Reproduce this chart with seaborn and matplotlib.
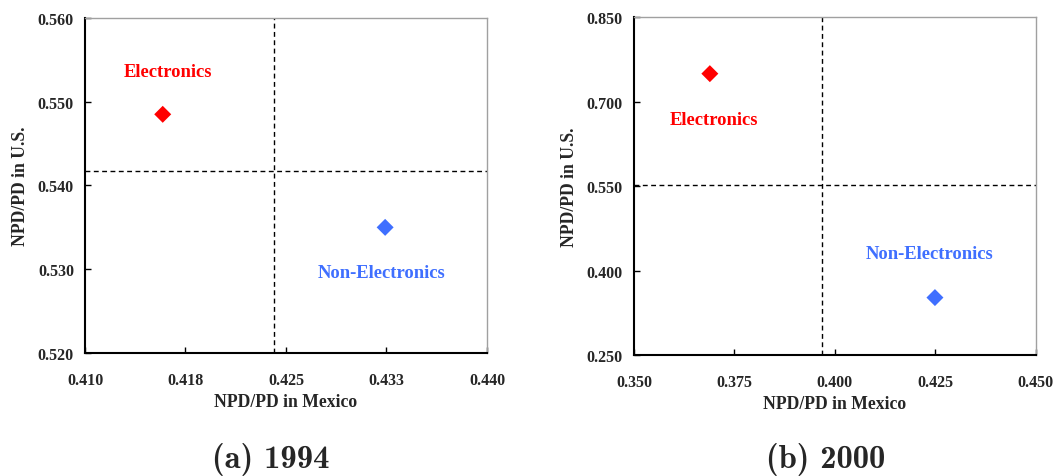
import os
import matplotlib
matplotlib.use("Agg")
import matplotlib.pyplot as plt
from matplotlib.font_manager import FontProperties
import seaborn as sns
import pandas as pd

sns.set_theme(style="white")
plt.rcParams['font.family'] = ['Liberation Serif', 'DejaVu Serif']

categories = ["Electronics", "Non-Electronics"]
colors = ["#ff0000", "#3f6fff"]

# 1994
x94 = [0.4158, 0.4324]
y94 = [0.5485, 0.5350]
vline94 = 0.4241
hline94 = 0.5417
lab_x94 = [0.4162, 0.4321]
lab_y94 = [0.5536, 0.5296]
xticks94 = [0.410, 0.4175, 0.425, 0.4325, 0.440]
xticklabels94 = ["0.410", "0.418", "0.425", "0.433", "0.440"]
yticks94 = [0.520, 0.530, 0.540, 0.550, 0.560]
yticklabels94 = ["0.520", "0.530", "0.540", "0.550", "0.560"]

# 2000
x00 = [0.3689, 0.4249]
y00 = [0.7498, 0.352]
vline00 = 0.3969
hline00 = 0.5526
lab_x00 = [0.370, 0.4236]
lab_y00 = [0.668, 0.431]
xticks00 = [0.350, 0.375, 0.400, 0.425, 0.450]
xticklabels00 = ["0.350", "0.375", "0.400", "0.425", "0.450"]
yticks00 = [0.250, 0.400, 0.550, 0.700, 0.850]
yticklabels00 = ["0.250", "0.400", "0.550", "0.700", "0.850"]

captions = ["(a) 1994", "(b) 2000"]

fig = plt.figure(figsize=(10.6, 4.77), dpi=100)
ax1 = fig.add_axes([0.0802, 0.2579, 0.3792, 0.7023])
ax2 = fig.add_axes([0.598, 0.2537, 0.3792, 0.708])

panels = [
    (ax1, x94, y94, vline94, hline94, lab_x94, lab_y94, xticks94, xticklabels94, yticks94, yticklabels94),
    (ax2, x00, y00, vline00, hline00, lab_x00, lab_y00, xticks00, xticklabels00, yticks00, yticklabels00),
]

for i, (ax, xs, ys, vl, hl, lx, ly, xt, xtl, yt, ytl) in enumerate(panels):
    df = pd.DataFrame({"x": xs, "y": ys, "cat": categories})
    sns.scatterplot(data=df, x="x", y="y", hue="cat", palette=colors,
                    marker="D", s=75, edgecolor="none", legend=False, ax=ax, zorder=3)
    ax.axvline(vl, color="black", lw=1.0, ls=(0, (3.5, 2.5)), zorder=2)
    ax.axhline(hl, color="black", lw=1.0, ls=(0, (3.5, 2.5)), zorder=2)
    for c, col, tx, ty in zip(categories, colors, lx, ly):
        ax.text(tx, ty, c, color=col, fontsize=13.4, fontweight="bold",
                ha="center", va="center")
    ax.set_xlim(xt[0], xt[-1])
    ax.set_ylim(yt[0], yt[-1])
    ax.set_xticks(xt)
    ax.set_yticks(yt)
    ax.set_xticklabels(xtl)
    ax.set_yticklabels(ytl)
    for lbl in ax.get_xticklabels() + ax.get_yticklabels():
        lbl.set_fontweight("bold")
        lbl.set_fontsize(11.5)
    ax.tick_params(axis="both", direction="in", length=4, width=1, color="black",
                   bottom=True, left=True)
    ax.tick_params(axis="x", pad=14)
    ax.tick_params(axis="y", pad=8)
    ax.set_xlabel("NPD/PD in Mexico", fontsize=12.7, fontweight="bold", labelpad=3)
    ax.set_ylabel("NPD/PD in U.S.", fontsize=12.7, fontweight="bold", labelpad=6)
    for side in ["left", "bottom"]:
        ax.spines[side].set_color("black")
        ax.spines[side].set_linewidth(1.5)
    for side in ["top", "right"]:
        ax.spines[side].set_color("#a0a0a0")
        ax.spines[side].set_linewidth(1.0)
    ax.grid(False)

cm_path = os.path.join(matplotlib.get_data_path(), "fonts", "ttf", "cmb10.ttf")
if os.path.exists(cm_path):
    cap_fp = FontProperties(fname=cm_path, size=23.5)
else:
    cap_fp = FontProperties(family="DejaVu Serif", weight="bold", size=20)

fig.text(0.2557, 0.036, captions[0], fontproperties=cap_fp, ha="center", va="center")
fig.text(0.7785, 0.036, captions[1], fontproperties=cap_fp, ha="center", va="center")

fig.savefig("out.png", dpi=100, facecolor="white")
